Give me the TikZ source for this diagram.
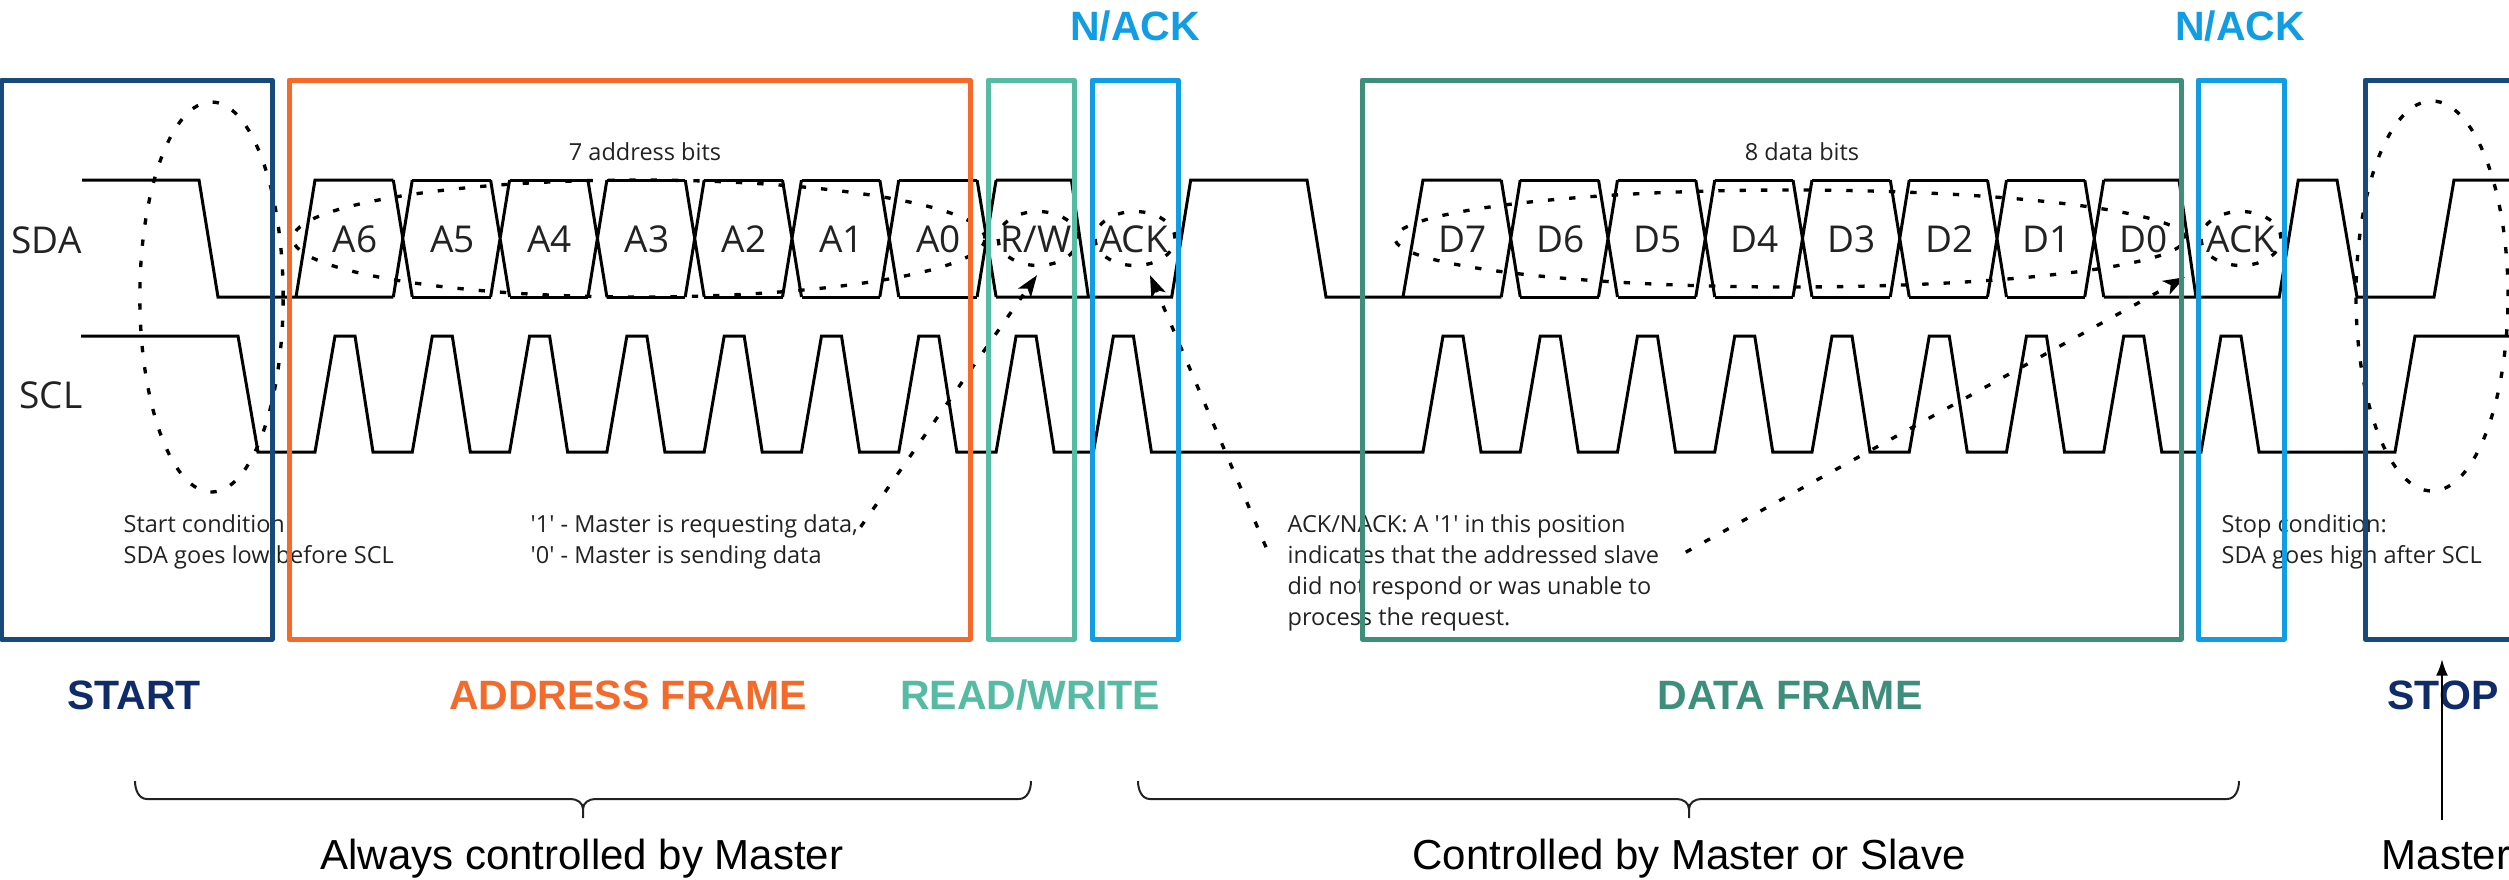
\documentclass[tikz,border=0pt]{standalone}
\usepackage{fontspec}
\setmainfont{Liberation Sans}
\newfontfamily\wavefont{Open Sans}
\usetikzlibrary{arrows.meta,shapes.geometric,calc}

\definecolor{startnavy}{HTML}{17497A}
\definecolor{startink}{HTML}{0F2B69}
\definecolor{addrorange}{HTML}{F46A2A}
\definecolor{rwteal}{HTML}{55BBA2}
\definecolor{ackblue}{HTML}{119DE4}
\definecolor{datagreen}{HTML}{3D8F7C}
\definecolor{inkgray}{HTML}{222222}

\newcommand\quotemark{\textquotesingle}

\begin{document}
\begin{tikzpicture}[x=0.3pt, y=-0.3pt,
  sig/.style={line width=0.9pt, black},
  frame/.style={line width=1.5pt, line join=round},
  hint/.style={line width=1pt, black, dash pattern=on 1.9pt off 4.5pt},
  ring/.style={ellipse, draw, hint, inner sep=0pt},
  hintarrow/.style={hint, -{Stealth[length=6.5pt, width=4.6pt, inset=1.6pt]}},
  celltxt/.style={font=\wavefont\fontsize{11.1pt}{13pt}\selectfont, inner sep=0pt, anchor=base, text=inkgray},
  note/.style={font=\wavefont\fontsize{7.05pt}{9pt}\selectfont, inner sep=0pt, anchor=base west, text=inkgray},
  tag/.style={font=\bfseries\fontsize{12.3pt}{14pt}\selectfont, inner sep=0pt, anchor=base},
  foot/.style={font=\fontsize{12.6pt}{15pt}\selectfont, inner sep=0pt, anchor=base, text=black},
  bracket/.style={line width=0.6pt, inkgray}
]
\useasboundingbox (0,0) rectangle (2509,879);
\clip (0,0) rectangle (2509,879);

% ---------- dotted highlight rings ----------
\node[ring, minimum width=43pt, minimum height=117pt] (startring) at (211.5,297) {};
\node[ring, minimum width=45.6pt, minimum height=117pt] (stopring) at (2432,296) {};
\node[ring, minimum width=207.6pt, minimum height=35.1pt] (addrring) at (639,238.5) {};
\node[ring, minimum width=237pt, minimum height=29.1pt] (dataring) at (1790,238.5) {};
\node[ring, minimum width=24pt, minimum height=16.2pt] (rwring) at (1038,238.5) {};
\node[ring, minimum width=24pt, minimum height=16.2pt] (ackring) at (1135,238.5) {};
\node[ring, minimum width=24pt, minimum height=16.2pt] (ackringD) at (2241,238.5) {};

% ---------- SDA ----------
% idle, start condition and address byte
\draw[sig] (82,180) -- (199,180) -- (218,297) -- (393.3,297);
\draw[sig] (296,297) -- (315,180) -- (393.3,180);
\foreach \k in {1,...,7} {
  \pgfmathsetmacro\ra{315+97.3*\k}
  \draw[sig] ({\ra-19},180) -- (\ra,297) ({\ra-19},297) -- (\ra,180);
}
\foreach \k in {1,...,6} {
  \pgfmathsetmacro\ra{315+97.3*\k}
  \pgfmathsetmacro\rb{315+97.3*(\k+1)-19}
  \draw[sig] (\ra,180) -- (\rb,180) (\ra,297) -- (\rb,297);
}
% R/W bit, ACK, release and data byte lead-in
\draw[sig] (996.1,180) -- (1071.4,180) -- (1088.4,297);
\draw[sig] (996.1,297) -- (1171.7,297) -- (1190.7,180) -- (1307,180) -- (1326,297) -- (1501.25,297);
\draw[sig] (1403,297) -- (1423,180) -- (1501.25,180);
\foreach \k in {1,...,7} {
  \pgfmathsetmacro\ra{1423+97.25*\k}
  \draw[sig] ({\ra-19},180) -- (\ra,297) ({\ra-19},297) -- (\ra,180);
}
\foreach \k in {1,...,6} {
  \pgfmathsetmacro\ra{1423+97.25*\k}
  \pgfmathsetmacro\rb{1423+97.25*(\k+1)-19}
  \draw[sig] (\ra,180) -- (\rb,180) (\ra,297) -- (\rb,297);
}
% D0, ACK and stop condition
\draw[sig] (2103.75,180) -- (2179,180) -- (2196,297);
\draw[sig] (2103.75,297) -- (2279.25,297) -- (2298.25,180) -- (2337,180) -- (2357,297) -- (2434,297) -- (2454,180) -- (2530,180);

% ---------- SCL ----------
\draw[sig] (81,336) -- (238,336) -- (258,452)
  \foreach \k in {0,...,8} { -- ({315+97.3*\k},452) -- ({335+97.3*\k},336) -- ({355+97.3*\k},336) -- ({373+97.3*\k},452) }
  \foreach \k in {0,...,8} { -- ({1423+97.25*\k},452) -- ({1443+97.25*\k},336) -- ({1463+97.25*\k},336) -- ({1481+97.25*\k},452) }
  -- (2395,452) -- (2415,336) -- (2530,336);

% ---------- signal names and bit labels ----------
\node[celltxt] (sdalbl) at (46.5,253) {SDA};
\node[celltxt] (scllbl) at (51,408) {SCL};
\foreach \lbl [count=\k from 0] in {A6,A5,A4,A3,A2,A1,A0,R/W,ACK}
  \node[celltxt] (abit\k) at ({355+97.3*\k},252) {\lbl};
\foreach \lbl [count=\k from 0] in {D7,D6,D5,D4,D3,D2,D1,D0,ACK}
  \node[celltxt] (dbit\k) at ({1463+97.25*\k},252) {\lbl};
\node[note, anchor=base] (addrbits) at (645,160.5) {7 address bits};
\node[note, anchor=base] (databits) at (1802,160.5) {8 data bits};

% ---------- annotations ----------
\node[note] (stA) at (123,532) {Start condition};
\node[note] (stB) at (123,563) {SDA goes low before SCL};
\node[note] (rqA) at (530,532) {\quotemark1\quotemark\ - Master is requesting data,};
\node[note] (rqB) at (530,563) {\quotemark0\quotemark\ - Master is sending data};
\node[note] (ackA) at (1287,532) {ACK/NACK: A \quotemark1\quotemark\ in this position};
\node[note] (ackB) at (1287,563) {indicates that the addressed slave};
\node[note] (ackC) at (1287,594) {did not respond or was unable to};
\node[note] (ackD) at (1287,625) {process the request.};
\node[note] (spA) at (2221,532) {Stop condition:};
\node[note] (spB) at (2221,563) {SDA goes high after SCL};

\draw[hintarrow] ($(rqA.east)+(2,1)$) -- ($(rwring.south)+(-1,8)$);
\draw[hintarrow] ($(ackB.west)+(-21,-7)$) -- ($(ackring.south)+(15,8)$);
\draw[hintarrow] ($(ackB.east)+(26,-2)$) -- ($(ackringD.south)+(-56,10)$);

% ---------- frame boxes ----------
\draw[frame, startnavy] (2,80) rectangle (272,639);
\draw[frame, addrorange] (289,80) rectangle (970,639);
\draw[frame, rwteal] (988,80) rectangle (1074,639);
\draw[frame, ackblue] (1092,80) rectangle (1178,639);
\draw[frame, datagreen] (1362,80) rectangle (2181,639);
\draw[frame, ackblue] (2198,80) rectangle (2284,639);
\draw[frame, startnavy] (2365,80) rectangle (2560,639);

% ---------- frame captions ----------
\node[tag, text=ackblue] (nack1) at (1135,40) {N/ACK};
\node[tag, text=ackblue] (nack2) at (2240,40) {N/ACK};
\node[tag, text=startink] (starttag) at (134,709) {START};
\node[tag, text=addrorange] (addrtag) at (628,709) {ADDRESS FRAME};
\node[tag, text=rwteal] (rwtag) at (1030,709) {READ/WRITE};
\node[tag, text=datagreen] (datatag) at (1790,709) {DATA FRAME};
\node[tag, text=startink] (stoptag) at (2443,709) {STOP};

% ---------- ownership brackets ----------
\draw[bracket] (135,781) to[out=-90,in=180] (147,799) -- (571,799) to[out=0,in=90] (583,809) -- (583,818);
\draw[bracket] (583,809) to[out=90,in=180] (595,799) -- (1019,799) to[out=0,in=-90] (1031,781);
\draw[bracket] (1138,781) to[out=-90,in=180] (1150,799) -- (1677,799) to[out=0,in=90] (1689,809) -- (1689,818);
\draw[bracket] (1689,809) to[out=90,in=180] (1701,799) -- (2227,799) to[out=0,in=-90] (2239,781);

\node[foot] (mastertxt) at (582,869) {Always controlled by Master};
\node[foot] (sharedtxt) at (1689,869) {Controlled by Master or Slave};
\node[foot, anchor=base west] (stopowner) at (2381,869) {Master};

\coordinate (stopfoot) at (2442,820);
\coordinate (stoptip) at (2442,659);
\draw[line width=0.7pt, -{Latex[length=5pt, width=3.6pt]}] (stopfoot) -- (stoptip);
\end{tikzpicture}
\end{document}
